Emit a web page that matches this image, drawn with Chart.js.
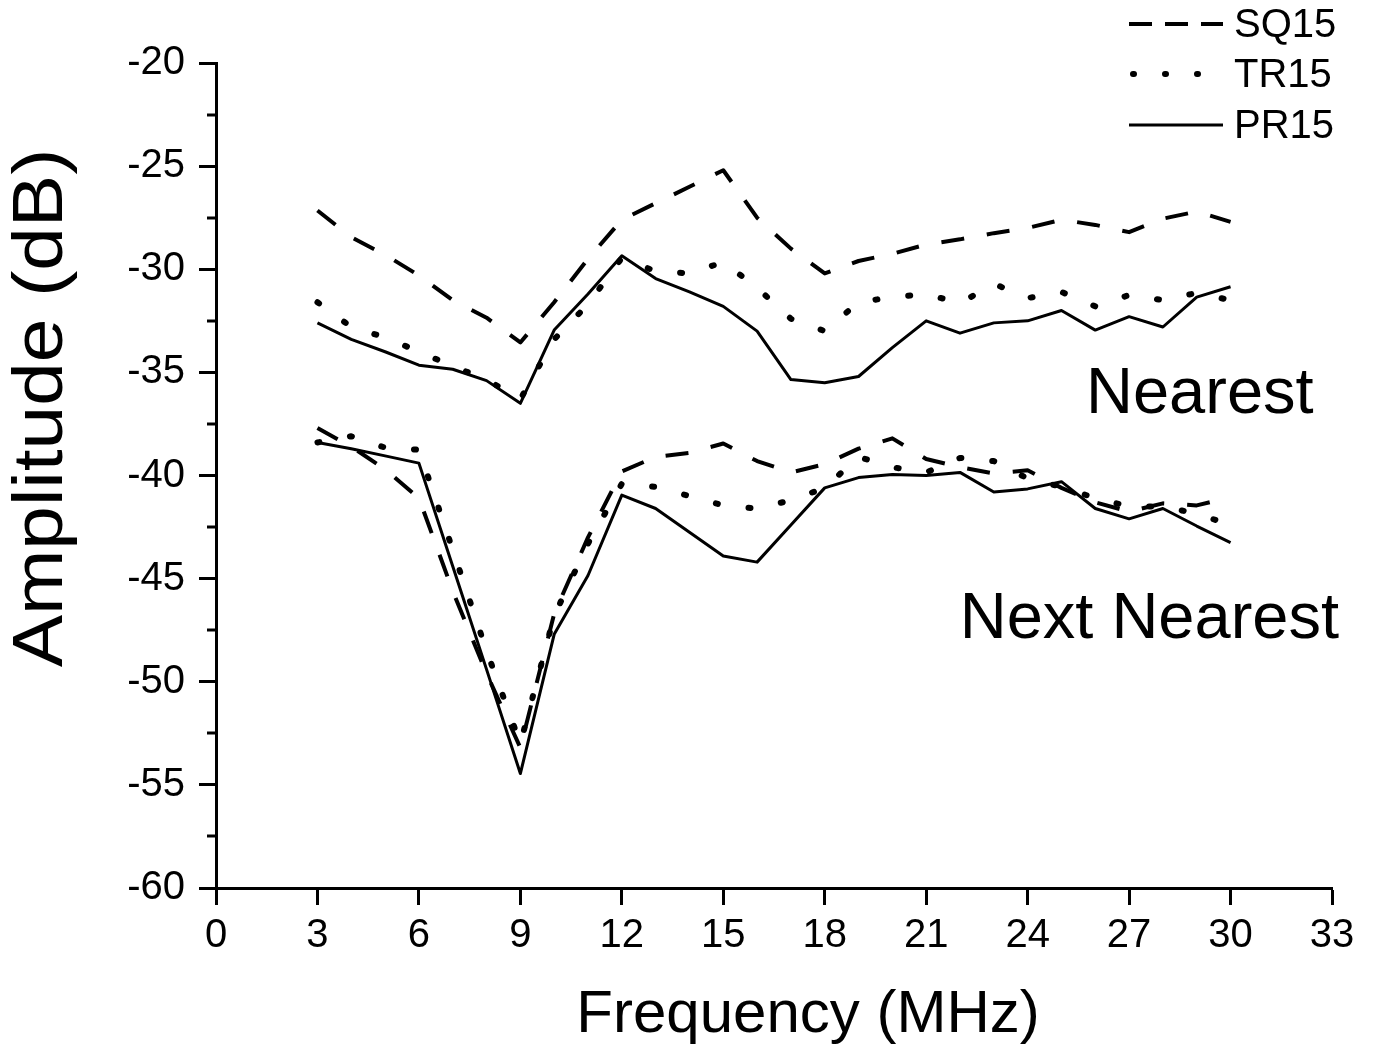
<!DOCTYPE html>
<html>
<head>
<meta charset="utf-8">
<script src="https://cdn.jsdelivr.net/npm/chart.js@4.4.1/dist/chart.umd.min.js"></script>
<style>
  html, body { margin: 0; padding: 0; background: #fff; }
  #wrap { width: 1379px; height: 1055px; }
</style>
</head>
<body>
<div id="wrap"><canvas id="amp" width="1379" height="1055"></canvas></div>
<script>
// frequency points (MHz)
const freq = [3, 4, 5, 6, 7, 8, 9, 10, 11, 12, 13, 14, 15, 16, 17, 18, 19, 20, 21, 22, 23, 24, 25, 26, 27, 28, 29, 30];

// nearest neighbour coupling (dB)
const sq15Nearest = [-27.15, -28.45, -29.3, -30.3, -31.5, -32.35, -33.55, -31.6, -29.5, -27.6, -26.8, -26.0, -25.2, -27.5, -29.0, -30.2, -29.6, -29.25, -28.8, -28.55, -28.25, -28.0, -27.6, -27.85, -28.2, -27.55, -27.2, -27.7];
const tr15Nearest = [-31.6, -32.8, -33.3, -34.0, -34.7, -35.35, -36.3, -33.4, -31.7, -29.45, -30.1, -30.2, -29.65, -30.9, -32.4, -33.0, -31.6, -31.35, -31.2, -31.65, -30.7, -31.4, -31.1, -31.8, -31.25, -31.5, -31.15, -31.5];
const pr15Nearest = [-32.6, -33.4, -34.0, -34.65, -34.85, -35.4, -36.5, -32.95, -31.2, -29.35, -30.45, -31.1, -31.8, -33.0, -35.35, -35.5, -35.2, -33.8, -32.5, -33.1, -32.6, -32.5, -32.0, -32.95, -32.3, -32.8, -31.35, -30.85];

// next nearest neighbour coupling (dB)
const sq15Next = [-37.7, -38.6, -39.7, -41.1, -45.6, -49.6, -53.2, -46.7, -43.0, -39.8, -39.1, -38.9, -38.45, -39.3, -39.85, -39.45, -38.7, -38.2, -39.2, -39.6, -39.9, -39.75, -40.6, -41.3, -41.75, -41.35, -41.45, -41.05];
const tr15Next = [-38.4, -38.1, -38.65, -38.75, -43.6, -48.5, -53.0, -46.8, -43.3, -40.4, -40.55, -41.0, -41.45, -41.6, -41.2, -40.6, -39.1, -39.6, -39.85, -39.15, -39.3, -40.15, -40.55, -41.1, -41.5, -41.5, -41.85, -42.4];
const pr15Next = [-38.4, -38.7, -39.05, -39.4, -44.4, -49.4, -54.45, -47.7, -44.85, -40.95, -41.6, -42.75, -43.9, -44.2, -42.4, -40.6, -40.1, -39.95, -40.0, -39.85, -40.8, -40.65, -40.3, -41.6, -42.1, -41.6, -42.45, -43.25];

const seriesNames = ["SQ15", "TR15", "PR15"];
const groupNames = ["Nearest", "Next Nearest"];

const xRange = [0, 33];
const xStep = 3;
const yRange = [-60, -20];
const yStep = 5;

const FONT = "'Liberation Sans', Arial, Helvetica, sans-serif";

const lineStyles = {
	SQ15: { width: 4, dash: [23, 23], cap: "butt", legendDash: [23, 13] },
	TR15: { width: 6, dash: [2, 31], cap: "round", legendDash: [1, 31] },
	PR15: { width: 3, dash: [], cap: "butt", legendDash: [] },
};

const toPoints = values => values.map((v, i) => ({ x: freq[i], y: v }));

const datasets = [];
[
	["SQ15", sq15Nearest, sq15Next],
	["TR15", tr15Nearest, tr15Next],
	["PR15", pr15Nearest, pr15Next],
].forEach(([name, near, next]) => {
	const st = lineStyles[name];
	[near, next].forEach(values => {
		datasets.push({
			label: name,
			data: toPoints(values),
			borderColor: "#000",
			borderWidth: st.width,
			borderDash: st.dash,
			borderCapStyle: st.cap,
			borderJoinStyle: "round",
			pointRadius: 0,
			tension: 0,
			fill: false,
		});
	});
});

// titles, group labels, minor ticks and the legend box
const decorations = {
	id: "decorations",
	afterDraw(chart) {
		const { ctx, chartArea, scales } = chart;
		const y = scales.y;
		ctx.save();
		ctx.fillStyle = "#000";
		ctx.strokeStyle = "#000";

		// minor ticks between the labelled ones
		ctx.lineWidth = 3;
		for (let v = yRange[0] + yStep / 2; v < yRange[1]; v += yStep) {
			const py = Math.round(y.getPixelForValue(v));
			ctx.beginPath();
			ctx.moveTo(chartArea.left - 9, py);
			ctx.lineTo(chartArea.left, py);
			ctx.stroke();
		}

		// axis titles
		ctx.font = `60px ${FONT}`;
		ctx.textAlign = "center";
		ctx.textBaseline = "alphabetic";
		ctx.fillText("Frequency (MHz)", 808, 1032);

		ctx.save();
		ctx.translate(62, 408);
		ctx.rotate(-Math.PI / 2);
		ctx.scale(1.12, 1);
		ctx.font = `70px ${FONT}`;
		ctx.fillText("Amplitude (dB)", 0, 0);
		ctx.restore();

		// group labels
		ctx.font = `65px ${FONT}`;
		ctx.textAlign = "left";
		ctx.fillText(groupNames[0], 1086, 413);
		ctx.textAlign = "right";
		ctx.fillText(groupNames[1], 1339, 638);

		// legend
		const rows = [24, 74, 125];
		ctx.font = `40px ${FONT}`;
		ctx.textAlign = "left";
		seriesNames.forEach((name, i) => {
			const st = lineStyles[name];
			const ly = rows[i];
			ctx.lineWidth = st.width;
			ctx.lineCap = st.cap;
			ctx.setLineDash(st.legendDash);
			ctx.beginPath();
			if (name === "TR15") {
				ctx.moveTo(1133, ly);
				ctx.lineTo(1199, ly);
			} else {
				ctx.moveTo(1129, ly);
				ctx.lineTo(1223, ly);
			}
			ctx.stroke();
			ctx.setLineDash([]);
			ctx.fillText(name, 1234, ly + 13);
		});
		ctx.restore();
	},
};

const axisGrid = {
	display: true,
	drawOnChartArea: false,
	drawTicks: true,
	tickLength: 17,
	tickWidth: 3,
	tickColor: "#000",
};

new Chart(document.getElementById("amp"), {
	type: "line",
	data: { datasets },
	plugins: [decorations],
	options: {
		responsive: false,
		animation: false,
		events: [],
		devicePixelRatio: 1,
		layout: { padding: { top: 63, right: 47, left: 0, bottom: 0 } },
		plugins: {
			legend: { display: false },
			tooltip: { enabled: false },
		},
		scales: {
			x: {
				type: "linear",
				min: xRange[0],
				max: xRange[1],
				grid: axisGrid,
				border: { display: true, width: 3, color: "#000" },
				ticks: {
					stepSize: xStep,
					autoSkip: false,
					maxRotation: 0,
					color: "#000",
					padding: 7,
					font: { family: FONT, size: 40 },
				},
				afterFit(scale) {
					scale.height = 167;
				},
			},
			y: {
				type: "linear",
				min: yRange[0],
				max: yRange[1],
				grid: axisGrid,
				border: { display: true, width: 3, color: "#000" },
				ticks: {
					stepSize: yStep,
					color: "#000",
					padding: 14,
					font: { family: FONT, size: 40 },
				},
				afterFit(scale) {
					scale.width = 216;
				},
			},
		},
	},
});
</script>
</body>
</html>
